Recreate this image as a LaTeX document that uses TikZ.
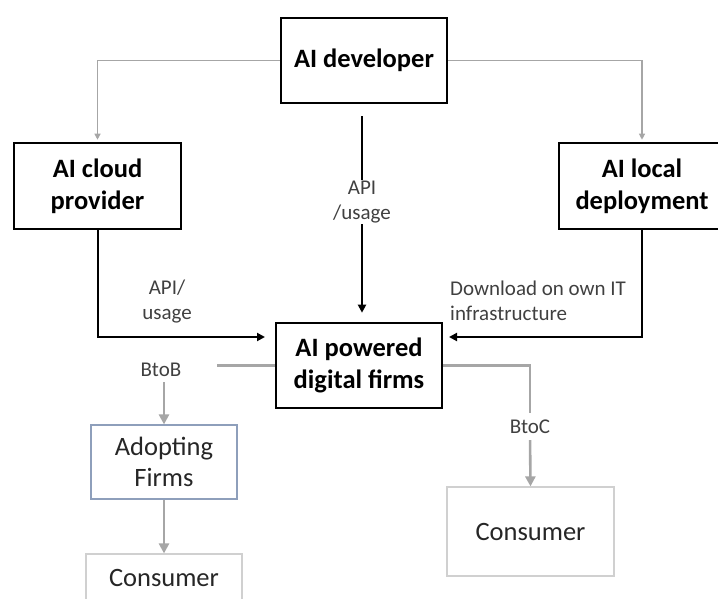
\documentclass[tikz,border=0pt]{standalone}
\usepackage{fontspec}
\setmainfont{Carlito}
\usetikzlibrary{arrows.meta}
\definecolor{lg}{HTML}{A6A6A6}
\definecolor{bx}{HTML}{8E9FBB}
\definecolor{cb}{HTML}{D0D0D0}
\definecolor{tx}{HTML}{262626}
\definecolor{lt}{HTML}{404040}
\begin{document}
\begin{tikzpicture}[x=1pt,y=-1pt,
  mainbox/.style={draw=black, line width=2.6pt, align=center, inner sep=0pt,
    font=\fontsize{26.5}{32}\selectfont\bfseries},
  adoptbox/.style={draw=bx, line width=1.2pt, align=center, inner sep=0pt, text=tx,
    font=\fontsize{26.5}{31}\selectfont},
  consbox/.style={draw=cb, line width=1.2pt, align=center, inner sep=0pt, text=tx,
    font=\fontsize{26.5}{31}\selectfont},
  lbl/.style={align=center, inner sep=1pt, text=lt, font=\fontsize{21}{25}\selectfont},
  gthin/.style={draw=lg, line width=1.2pt, -{Triangle[length=6pt,width=6pt]}},
  blkline/.style={draw=black, line width=2pt},
  blkarrow/.style={draw=black, line width=2pt, -{Triangle[length=8pt,width=8pt]}},
  gthick/.style={draw=lg, line width=2.6pt},
  garrow/.style={draw=lg, line width=2.6pt, -{Triangle[length=10pt,width=10pt]}}]
\useasboundingbox (0,0) rectangle (718,598);

% boxes
\node[mainbox, minimum width=166pt, minimum height=85pt] (dev) at (364,60.5) {AI developer};
\node[mainbox, minimum width=167pt, minimum height=86pt] (cloud) at (97.5,186) {AI cloud\\provider};
\node[mainbox, minimum width=166pt, minimum height=86pt] (local) at (642,186) {AI local\\deployment};
\node[mainbox, minimum width=166pt, minimum height=85pt] (firms) at (359,365.5) {AI powered\\digital firms};
\node[adoptbox, minimum width=146pt, minimum height=74pt] (adopt) at (164,462) {Adopting\\Firms};
\node[consbox, minimum width=156pt, minimum height=48pt] (consL) at (164,578) {Consumer};
\node[consbox, minimum width=167pt, minimum height=89pt] (consR) at (530.5,531.5) {Consumer};

% labels
\node[lbl] (apiM) at (362,202) {API\\/usage};
\node[lbl] (apiL) at (167,302) {API/\\usage};
\node[lbl, anchor=west, align=left] (dl) at (449,301) {Download on own IT\\infrastructure};
\node[lbl] (btob) at (161,370) {BtoB};
\node[lbl] (btoc) at (530,427) {BtoC};

% coordinates
\coordinate (m1) at (362,116);
\coordinate (inL) at (265,337);
\coordinate (inR) at (449,337);
\coordinate (bL) at (217,365.5);

% connectors
\draw[gthin, shorten >=2pt] (dev.west) -| (cloud.north);
\draw[gthin, shorten >=2pt] (dev.east) -| (local.north);
\draw[blkline] (m1) -- (apiM.north);
\draw[blkarrow, shorten >=9pt] (apiM.south) -- (apiM.south |- firms.north);
\draw[blkarrow] (cloud.south) |- (inL);
\draw[blkarrow] (local.south) |- (inR);
\draw[gthick] (firms.west) -- (bL);
\draw[garrow, shorten <=4pt] (btob.south -| adopt.north) -- (adopt.north);
\draw[garrow] (adopt.south) -- (consL.north);
\draw[gthick, shorten >=6pt] (firms.east) -| (btoc.north);
\draw[garrow, shorten <=5pt] (btoc.south) -- (consR.north);
\end{tikzpicture}
\end{document}
